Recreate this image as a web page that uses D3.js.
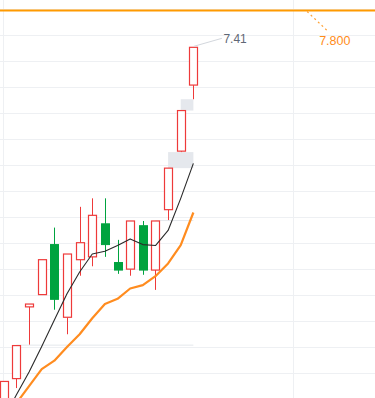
<!DOCTYPE html>
<html>
<head>
<meta charset="utf-8">
<script src="https://cdn.jsdelivr.net/npm/d3@7"></script>
<style>
html,body{margin:0;padding:0;background:#fff;}
svg{display:block;}
</style>
</head>
<body>
<div id="chart"></div>
<script>
// ---- data ----
const days   = d3.range(16);
const opens  = [3.62, 3.90, 4.66, 4.79, 5.32, 4.55, 5.16, 5.19, 5.54, 5.13, 5.06, 5.52, 5.05, 5.69, 6.31, 7.01];
const closes = [3.87, 4.25, 4.69, 5.16, 4.74, 5.22, 5.34, 5.63, 5.32, 5.05, 5.57, 5.05, 5.57, 6.13, 6.74, 7.41];
const highs  = [3.87, 4.25, 4.69, 5.16, 5.50, 5.22, 5.72, 5.81, 5.81, 5.37, 5.57, 5.57, 5.57, 6.13, 6.74, 7.41];
const lows   = [3.56, 3.80, 4.26, 4.79, 4.63, 4.37, 4.99, 5.09, 5.19, 5.01, 4.99, 5.00, 4.84, 5.58, 6.30, 6.86];
const ma5    = [3.47, 3.73, 3.97, 4.24, 4.52, 4.80, 5.03, 5.22, 5.25, 5.31, 5.38, 5.32, 5.31, 5.47, 5.81, 6.18];
const ma10   = [3.46, 3.64, 3.82, 4.00, 4.09, 4.235, 4.37, 4.54, 4.69, 4.745, 4.855, 4.89, 4.985, 5.12, 5.315, 5.66];
const gapStart = [1, 12, 13, 14];
const gapLow   = [4.25, 5.57, 6.13, 6.74];
const gapHigh  = [4.26, 5.58, 6.30, 6.86];
const targetPrice = 7.800;
const vGridDays = [0, 23];

// ---- layout ----
const W = 375, H = 398;
const svg = d3.select("#chart").append("svg").attr("width", W).attr("height", H);

const x = d3.scaleLinear().domain([-0.3, 29.37]).range([0, W]);
const y = d3.scaleLinear().domain([3.684, 7.816]).range([399, 9]);
const lastDay = days[days.length - 1];
const bodyW = 8;

// grid
const gridVals = d3.range(16).map(k => 3.684 + k * (7.816 - 3.684) / 15);
svg.append("g").selectAll("line").data(gridVals).join("line")
  .attr("x1", 0).attr("x2", W)
  .attr("y1", d => Math.round(y(d)) + 0.5).attr("y2", d => Math.round(y(d)) + 0.5)
  .attr("stroke", "#eef0f3").attr("stroke-width", 1);
svg.append("g").selectAll("line").data(vGridDays).join("line")
  .attr("x1", d => Math.round(x(d)) - 0.5).attr("x2", d => Math.round(x(d)) - 0.5)
  .attr("y1", 0).attr("y2", H)
  .attr("stroke", "#eef0f3").attr("stroke-width", 1);

// gap boxes
svg.append("g").selectAll("rect").data(gapStart.map((s, i) => ({s, lo: gapLow[i], hi: gapHigh[i]}))).join("rect")
  .attr("x", d => x(d.s))
  .attr("width", d => x(lastDay) - x(d.s))
  .attr("y", d => y(d.hi))
  .attr("height", d => Math.max(1, y(d.lo) - y(d.hi)))
  .attr("fill", "#e5e8ed");

// candles
const RED = "#ee3a3a", GREEN = "#00a33f";
const cg = svg.append("g");
days.forEach(i => {
  const up = closes[i] >= opens[i];
  const col = up ? RED : GREEN;
  const cx = Math.round(x(i)) + 0.5;
  const top = y(Math.max(opens[i], closes[i]));
  const bot = y(Math.min(opens[i], closes[i]));
  // wicks
  if (highs[i] > Math.max(opens[i], closes[i]))
    cg.append("line").attr("x1", cx).attr("x2", cx).attr("y1", y(highs[i])).attr("y2", top)
      .attr("stroke", col).attr("stroke-width", 1);
  if (lows[i] < Math.min(opens[i], closes[i]))
    cg.append("line").attr("x1", cx).attr("x2", cx).attr("y1", bot).attr("y2", y(lows[i]))
      .attr("stroke", col).attr("stroke-width", 1);
  const r = cg.append("rect")
    .attr("x", cx - bodyW / 2).attr("width", bodyW)
    .attr("y", top).attr("height", Math.max(1, bot - top));
  if (up) r.attr("fill", "#fff").attr("stroke", col).attr("stroke-width", 1.2);
  else r.attr("fill", col).attr("stroke", col).attr("stroke-width", 1);
});

// moving averages
const line = arr => d3.line().x((d, i) => x(i)).y(d => y(d))(arr);
svg.append("path").attr("d", line(ma10)).attr("fill", "none")
  .attr("stroke", "#ff8c1f").attr("stroke-width", 2.2).attr("stroke-linejoin", "round");
svg.append("path").attr("d", line(ma5)).attr("fill", "none")
  .attr("stroke", "#2a2a2a").attr("stroke-width", 1.1).attr("stroke-linejoin", "round");

// target price line
svg.append("line").attr("x1", 0).attr("x2", W)
  .attr("y1", y(targetPrice)).attr("y2", y(targetPrice))
  .attr("stroke", "#ff9a00").attr("stroke-width", 2);
const tx = x(24);
svg.append("line").attr("x1", tx).attr("y1", y(targetPrice) + 1)
  .attr("x2", tx + 21).attr("y2", y(targetPrice) + 21)
  .attr("stroke", "#ffa033").attr("stroke-width", 1.2).attr("stroke-dasharray", "2,3");
svg.append("text").attr("x", tx + 12).attr("y", y(targetPrice) + 34.5)
  .attr("font-family", "Liberation Sans, Arial, sans-serif").attr("font-size", 12.5)
  .attr("fill", "#ff8c1a").text(targetPrice.toFixed(3));

// max high label
const maxI = d3.maxIndex(highs);
const mx = x(maxI) + 0.5, my = y(highs[maxI]) - 1;
svg.append("line").attr("x1", mx).attr("y1", my).attr("x2", mx + 28).attr("y2", my - 8)
  .attr("stroke", "#d3d7dd").attr("stroke-width", 1);
svg.append("text").attr("x", mx + 29.5).attr("y", my - 3.8)
  .attr("font-family", "Liberation Sans, Arial, sans-serif").attr("font-size", 12)
  .attr("fill", "#5f6775").text(highs[maxI].toFixed(2));
</script>
</body>
</html>
